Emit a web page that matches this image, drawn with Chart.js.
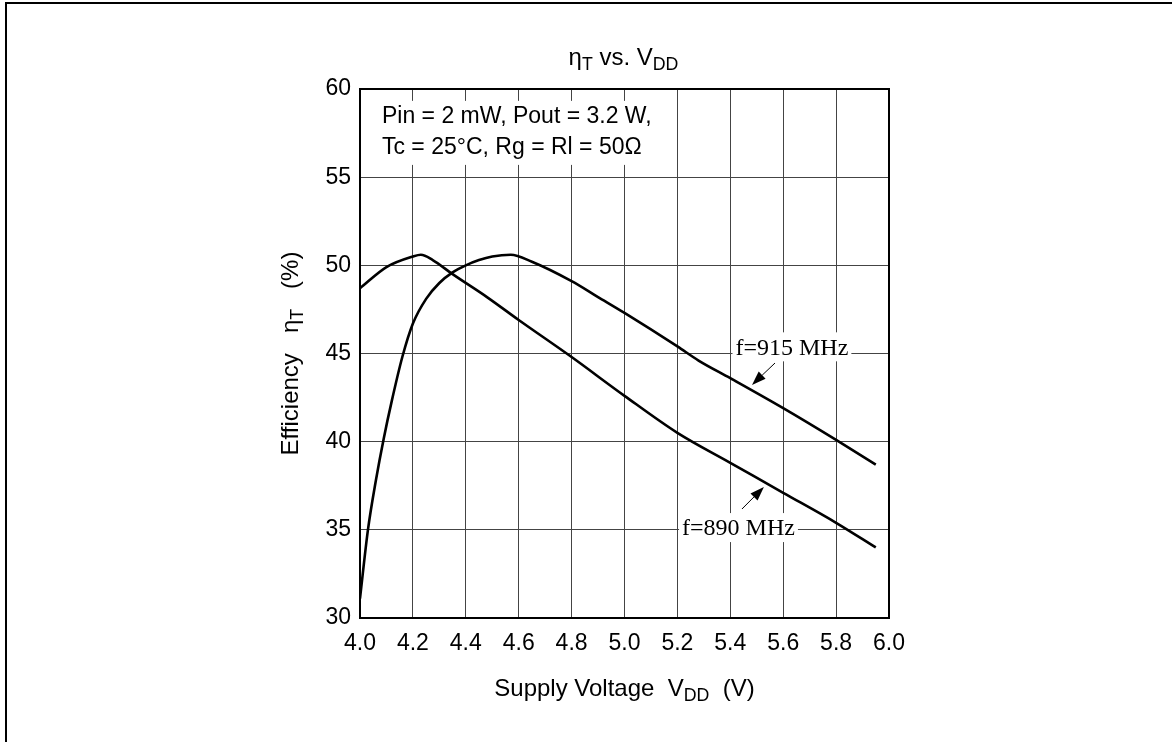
<!DOCTYPE html>
<html>
<head>
<meta charset="utf-8">
<script src="https://cdn.jsdelivr.net/npm/chart.js@4.4.1/dist/chart.umd.min.js"></script>
<style>
  body { margin: 0; background: #fff; }
  #wrap { width: 1175px; height: 742px; position: relative; }
</style>
</head>
<body>
<div id="wrap"><canvas id="effChart"></canvas></div>
<script>
// data
const volt915 = [4.00, 4.03, 4.06, 4.09, 4.12, 4.16, 4.20, 4.25, 4.30, 4.35, 4.40, 4.45, 4.50, 4.57, 4.65, 4.80, 4.90, 5.00, 5.20, 5.28, 5.40, 5.60, 5.80, 5.95];
const eff915  = [31.1, 35.0, 37.8, 40.2, 42.3, 44.8, 46.7, 48.1, 49.0, 49.6, 50.0, 50.3, 50.5, 50.6, 50.2, 49.1, 48.2, 47.3, 45.4, 44.6, 43.6, 41.9, 40.1, 38.7];

const volt890 = [4.00, 4.10, 4.20, 4.23, 4.275, 4.35, 4.48, 4.60, 4.80, 5.00, 5.20, 5.40, 5.60, 5.80, 5.95];
const eff890  = [48.7, 49.9, 50.5, 50.6, 50.3, 49.5, 48.2, 46.9, 44.8, 42.6, 40.5, 38.8, 37.1, 35.4, 34.0];

const xTicks = [4.0, 4.2, 4.4, 4.6, 4.8, 5.0, 5.2, 5.4, 5.6, 5.8, 6.0];
const yTicks = [30, 35, 40, 45, 50, 55, 60];

const condLines = ['Pin = 2 mW, Pout = 3.2 W,', 'Tc = 25°C, Rg = Rl = 50Ω'];
const curveLabels = ['f=915 MHz', 'f=890 MHz'];

const SANS = '"Liberation Sans", Arial, sans-serif';
const SERIF = '"Liberation Serif", "Times New Roman", serif';

const toPts = (xs, ys) => xs.map((x, i) => ({ x: x, y: ys[i] }));

// text with subscripts: parts = [[text, isSub], ...]
function richWidth(ctx, parts, size) {
  let w = 0;
  parts.forEach(p => {
    ctx.font = (p[1] ? size * 0.74 : size) + 'px ' + SANS;
    w += ctx.measureText(p[0]).width;
  });
  return w;
}
function drawRich(ctx, parts, cx, cy, size) {
  let x = cx - richWidth(ctx, parts, size) / 2;
  ctx.textBaseline = 'middle';
  ctx.textAlign = 'left';
  parts.forEach(p => {
    ctx.font = (p[1] ? size * 0.74 : size) + 'px ' + SANS;
    ctx.fillText(p[0], x, p[1] ? cy + size * 0.3 : cy);
    x += ctx.measureText(p[0]).width;
  });
}

function arrow(ctx, x1, y1, x2, y2) {
  const a = Math.atan2(y2 - y1, x2 - x1);
  const L = 14, W = 5;
  ctx.beginPath();
  ctx.moveTo(x1, y1);
  ctx.lineTo(x2 - L * Math.cos(a), y2 - L * Math.sin(a));
  ctx.lineWidth = 1;
  ctx.stroke();
  ctx.beginPath();
  ctx.moveTo(x2, y2);
  ctx.lineTo(x2 - L * Math.cos(a) + W * Math.sin(a), y2 - L * Math.sin(a) - W * Math.cos(a));
  ctx.lineTo(x2 - L * Math.cos(a) - W * Math.sin(a), y2 - L * Math.sin(a) + W * Math.cos(a));
  ctx.closePath();
  ctx.fill();
}

const decor = {
  id: 'decor',
  beforeDatasetsDraw(chart) {
    const ctx = chart.ctx;
    const xs = chart.scales.x, ys = chart.scales.y;
    ctx.save();
    ctx.fillStyle = '#000';

    // conditions box, top-left inside the plot
    ctx.font = '23px ' + SANS;
    const w = Math.max(...condLines.map(t => ctx.measureText(t).width));
    const lx = xs.getPixelForValue(4.083);
    const l1 = ys.getPixelForValue(58.42), l2 = ys.getPixelForValue(56.66);
    ctx.fillStyle = '#fff';
    ctx.fillRect(lx - 5, l1 - 16, w + 10, l2 - l1 + 33);
    ctx.fillStyle = '#000';
    ctx.textBaseline = 'middle';
    ctx.fillText(condLines[0], lx, l1);
    ctx.fillText(condLines[1], lx, l2);

    // curve labels
    const spots = [[5.633, 45.35], [5.431, 35.1]];
    ctx.font = '24px ' + SERIF;
    ctx.textAlign = 'center';
    curveLabels.forEach((t, i) => {
      const px = xs.getPixelForValue(spots[i][0]), py = ys.getPixelForValue(spots[i][1]);
      const tw = ctx.measureText(t).width;
      ctx.fillStyle = '#fff';
      ctx.fillRect(px - tw / 2 - 3, py - 15, tw + 6, 29);
      ctx.fillStyle = '#000';
      ctx.fillText(t, px, py + 1);
    });

    const arrows = [[5.569, 44.46, 5.482, 43.22], [5.444, 36.18, 5.527, 37.43]];
    ctx.strokeStyle = '#000';
    arrows.forEach(a => arrow(ctx, xs.getPixelForValue(a[0]), ys.getPixelForValue(a[1]),
                                   xs.getPixelForValue(a[2]), ys.getPixelForValue(a[3])));
    ctx.restore();
  },
  afterDraw(chart) {
    const ctx = chart.ctx, ca = chart.chartArea;
    ctx.save();
    ctx.strokeStyle = '#000';
    ctx.lineWidth = 2;
    ctx.strokeRect(ca.left, ca.top, ca.right - ca.left, ca.bottom - ca.top);

    // page frame
    ctx.beginPath();
    ctx.moveTo(6, 742);
    ctx.lineTo(6, 3);
    ctx.lineTo(1172, 3);
    ctx.stroke();

    ctx.fillStyle = '#000';
    const midX = (ca.left + ca.right) / 2;
    drawRich(ctx, [['η', false], ['T', true], [' vs. V', false], ['DD', true]], midX - 1, 58, 24);
    drawRich(ctx, [['Supply Voltage  V', false], ['DD', true], ['  (V)', false]], midX, 689, 24);

    ctx.translate(291, (ca.top + ca.bottom) / 2);
    ctx.rotate(-Math.PI / 2);
    drawRich(ctx, [['Efficiency   η', false], ['T', true], ['   (%)', false]], 0, 0, 24);
    ctx.restore();
  }
};

new Chart(document.getElementById('effChart'), {
  type: 'line',
  data: {
    datasets: [
      { label: curveLabels[0], data: toPts(volt915, eff915) },
      { label: curveLabels[1], data: toPts(volt890, eff890) }
    ]
  },
  options: {
    responsive: true,
    maintainAspectRatio: false,
    animation: false,
    layout: { padding: { left: 0, top: 89, right: 286, bottom: 0 } },
    elements: {
      line: { borderColor: '#000', borderWidth: 2.6, cubicInterpolationMode: 'monotone', fill: false },
      point: { radius: 0 }
    },
    plugins: { legend: { display: false }, tooltip: { enabled: false } },
    scales: {
      x: {
        type: 'linear', min: 4, max: 6,
        afterBuildTicks: s => { s.ticks = xTicks.map(v => ({ value: v })); },
        afterFit: s => { s.height = 124; },
        ticks: { color: '#000', font: { family: SANS, size: 23 }, padding: 12, maxRotation: 0,
                 callback: v => Number(v).toFixed(1) },
        grid: { color: '#444', lineWidth: 1, drawTicks: false },
        border: { display: false }
      },
      y: {
        min: 30, max: 60,
        afterBuildTicks: s => { s.ticks = yTicks.map(v => ({ value: v })); },
        afterFit: s => { s.width = 360; },
        ticks: { color: '#000', font: { family: SANS, size: 23 }, padding: 9 },
        grid: { color: '#444', lineWidth: 1, drawTicks: false },
        border: { display: false }
      }
    }
  },
  plugins: [decor]
});
</script>
</body>
</html>
